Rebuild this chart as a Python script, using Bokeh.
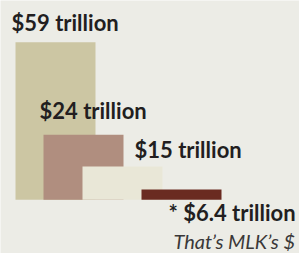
from bokeh.plotting import figure
from bokeh.models import Range1d, ColumnDataSource
from bokeh.core.properties import value
from bokeh.embed import file_html
from bokeh.resources import INLINE

# ---- data ----
labels = ["$59 trillion", "$24 trillion", "$15 trillion", "* $6.4 trillion"]
values = [59, 24, 15, 6.4]               # stated amounts (trillions)
bar_heights = [59, 24.4, 12.5, 3.9]      # heights as drawn in the original
colors = ["#CCC6A3", "#B08E7F", "#E9E7D7", "#6A2B21"]
note = "That’s MLK’s $"

# ---- layout (page-pixel style x units, trillions on y) ----
bar_left = [15, 43, 82, 141]
bar_width = 80
label_dx = [-4, -4, 52, 27]
label_dy = [7.5, 9.1, 6.4, -8.5]

W, H = 299, 253
k = 2.671  # px per trillion
base_page_y = 199.3
y_top = base_page_y / k
y_bot = -(H - base_page_y) / k

p = figure(width=W, height=H, output_backend="svg", toolbar_location=None,
           x_range=Range1d(0, W), y_range=Range1d(y_bot, y_top),
           x_axis_type=None, y_axis_type=None, min_border=0)
p.grid.visible = False
p.outline_line_color = None
p.background_fill_color = "#ECECE6"
p.border_fill_color = "#ECECE6"

src = ColumnDataSource(dict(
    left=bar_left,
    right=[b + bar_width for b in bar_left],
    top=bar_heights,
    bottom=[0] * 4,
    color=colors,
))
p.quad(left="left", right="right", top="top", bottom="bottom",
       fill_color="color", line_color=None, source=src)

lsrc = ColumnDataSource(dict(
    x=[b + d for b, d in zip(bar_left, label_dx)],
    y=[h + d for h, d in zip(bar_heights, label_dy)],
    text=labels,
))
p.text(x="x", y="y", text="text", source=lsrc,
       text_font=value("Lato"), text_font_style="bold",
       text_font_size="22px", text_color="#221E1F",
       text_align="left", text_baseline="alphabetic")

p.text(x=[bar_left[3] + 32], y=[bar_heights[3] - 19.5], text=[note],
       text_font=value("Lato"), text_font_style="italic",
       text_font_size="20px", text_color="#3A3838",
       text_align="left", text_baseline="alphabetic")

html = file_html(p, INLINE)
html = html.replace("<body>", '<body style="background:#ECECE6;">', 1)
open("out.html", "w").write(html)
